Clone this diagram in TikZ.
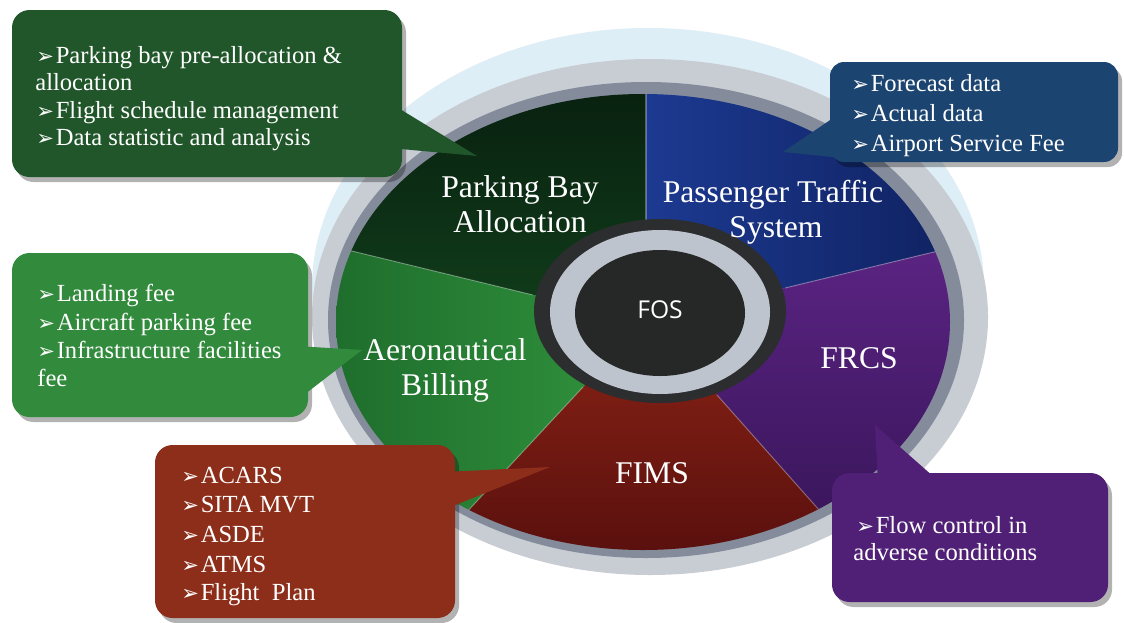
\documentclass[tikz,border=0pt]{standalone}
\usepackage{fontspec}
\setmainfont{Liberation Serif}
\newfontfamily\fossans{Open Sans}
\newfontfamily\bulletfont{DejaVu Sans}

\definecolor{halocol}{RGB}{222,238,246}
\definecolor{rimlight}{RGB}{200,204,211}
\definecolor{rimdark}{RGB}{132,140,156}
\definecolor{parktop}{RGB}{6,22,12}
\definecolor{parkbot}{RGB}{16,60,26}
\definecolor{passlight}{RGB}{28,58,145}
\definecolor{passdark}{RGB}{14,30,90}
\definecolor{frcslight}{RGB}{92,36,132}
\definecolor{frcsdark}{RGB}{48,18,80}
\definecolor{fimstop}{RGB}{140,36,22}
\definecolor{fimsbot}{RGB}{80,12,12}
\definecolor{aerolight}{RGB}{50,150,62}
\definecolor{aerodark}{RGB}{28,104,42}
\definecolor{fosdark}{RGB}{44,45,46}
\definecolor{fosring}{RGB}{190,196,206}
\definecolor{fosin}{RGB}{38,40,40}
\definecolor{boxpark}{RGB}{32,86,42}
\definecolor{boxpass}{RGB}{28,68,112}
\definecolor{boxaero}{RGB}{50,138,60}
\definecolor{boxfims}{RGB}{140,46,26}
\definecolor{boxfrcs}{RGB}{80,32,118}

\newcommand{\bul}{{\bulletfont\fontsize{12}{12}\selectfont\char"27A2}\hspace{1pt}}

\begin{document}
\begin{tikzpicture}[x=0.02cm, y=-0.02cm,
    boxline/.style={anchor=base west, inner sep=0pt, text=white,
      font=\fontsize{14}{16}\selectfont},
    pielabel/.style={anchor=base, inner sep=0pt, text=white,
      font=\fontsize{18}{20}\selectfont},
    callshadow/.style={fill=black, opacity=0.3},
    divider/.style={white, opacity=0.3, line width=0.6pt}]

  \useasboundingbox (0,0) rectangle (1124,622);
  \fill[white] (0,0) rectangle (1124,622);

  % halo and rim
  \fill[halocol] (648,288) ellipse [x radius=336, y radius=260];
  \fill[rimlight] (650,317) ellipse [x radius=338, y radius=258];
  \fill[rimdark] (646,320) ellipse [x radius=318, y radius=238];

  % slices
  \begin{scope}
    \clip (643,322) ellipse [x radius=307, y radius=228];
    \coordinate (h) at (660,312);
    \coordinate (i1) at (646,230); \coordinate (o1) at (646,0);
    \coordinate (i2) at (785,288); \coordinate (o2) at (1000,236);
    \coordinate (i3) at (717,395); \coordinate (o3) at (899,600);
    \coordinate (i4) at (583,387); \coordinate (o4) at (385,600);
    \coordinate (i5) at (533,295); \coordinate (o5) at (290,236);
    \shade[top color=parktop, bottom color=parkbot]
      (h) -- (i5) -- (o5) -- (290,0) -- (o1) -- (i1) -- cycle;
    \shade[left color=passlight, right color=passdark]
      (h) -- (i1) -- (o1) -- (1000,0) -- (o2) -- (i2) -- cycle;
    \shade[top color=frcslight, bottom color=frcsdark]
      (h) -- (i2) -- (o2) -- (1000,600) -- (o3) -- (i3) -- cycle;
    \shade[top color=fimstop, bottom color=fimsbot]
      (h) -- (i3) -- (o3) -- (o4) -- (i4) -- cycle;
    \shade[right color=aerolight, left color=aerodark]
      (h) -- (i4) -- (o4) -- (290,600) -- (o5) -- (i5) -- cycle;
    \foreach \b in {1,...,5}
      \draw[divider] (i\b) -- (o\b);
  \end{scope}

  % hub
  \fill[fosdark] (660,311) ellipse [x radius=126, y radius=92];
  \fill[fosring] (660,312) ellipse [x radius=110, y radius=82];
  \fill[fosin] (660,313) ellipse [x radius=85, y radius=63];
  \node[anchor=base, inner sep=0pt, text=white, font=\fossans\fontsize{14}{16}\selectfont]
    (fos) at (660,318) {FOS};

  \node[pielabel] (park1) at (520,197) {Parking Bay};
  \node[pielabel] (park2) at (520,232) {Allocation};
  \node[pielabel] (pass1) at (773,202) {Passenger Traffic};
  \node[pielabel] (pass2) at (776,237) {System};
  \node[pielabel] (aero1) at (445,360) {Aeronautical};
  \node[pielabel] (aero2) at (445,395) {Billing};
  \node[pielabel] (frcs) at (859,368) {FRCS};
  \node[pielabel] (fims) at (652,483) {FIMS};

  % callout shadows
  \begin{scope}[shift={(4,5)}]
    \fill[callshadow, rounded corners=10pt] (12,10) rectangle (402,177);
    \fill[callshadow, rounded corners=8pt] (830,62) rectangle (1118,162);
    \fill[callshadow, rounded corners=10pt] (12,253) rectangle (308,417);
    \fill[callshadow, rounded corners=10pt] (155,445) rectangle (455,618);
    \fill[callshadow, rounded corners=10pt] (832,473) rectangle (1108,602);
  \end{scope}

  % callouts
  \fill[boxpark, rounded corners=10pt] (12,10) rectangle (402,177);
  \fill[boxpark] (390,103) -- (477,156) -- (390,148) -- cycle;
  \fill[boxpass, rounded corners=8pt] (830,62) rectangle (1118,162);
  \fill[boxpass] (842,112) -- (783,152) -- (842,158) -- cycle;
  \fill[boxaero, rounded corners=10pt] (12,253) rectangle (308,417);
  \fill[boxaero] (296,346) -- (362,350) -- (296,401) -- cycle;
  \fill[boxfims, rounded corners=10pt] (155,445) rectangle (455,618);
  \fill[boxfims] (443,472) -- (550,467) -- (443,510) -- cycle;
  \fill[boxfrcs, rounded corners=10pt] (832,473) rectangle (1108,602);
  \fill[boxfrcs] (878,485) -- (875,425) -- (943,485) -- cycle;

  % callout texts
  \node[boxline] (pk1) at (36,63) {\bul Parking bay pre-allocation \&};
  \node[boxline] (pk2) at (35,90) {allocation};
  \node[boxline] (pk3) at (36,118) {\bul Flight schedule management};
  \node[boxline] (pk4) at (36,145) {\bul Data statistic and analysis};

  \node[boxline] (ps1) at (851,91) {\bul Forecast data};
  \node[boxline] (ps2) at (851,121) {\bul Actual data};
  \node[boxline] (ps3) at (851,151) {\bul Airport Service Fee};

  \node[boxline] (ae1) at (37,301) {\bul Landing fee};
  \node[boxline] (ae2) at (37,330) {\bul Aircraft parking fee};
  \node[boxline] (ae3) at (37,358) {\bul Infrastructure facilities};
  \node[boxline] (ae4) at (37,386) {fee};

  \node[boxline] (fm1) at (181,483) {\bul ACARS};
  \node[boxline] (fm2) at (181,512) {\bul SITA MVT};
  \node[boxline] (fm3) at (181,542) {\bul ASDE};
  \node[boxline] (fm4) at (181,572) {\bul ATMS};
  \node[boxline] (fm5) at (181,600) {\bul Flight\ \ Plan};

  \node[boxline] (fr1) at (856,533) {\bul Flow control in};
  \node[boxline] (fr2) at (853,560) {adverse conditions};
\end{tikzpicture}
\end{document}
